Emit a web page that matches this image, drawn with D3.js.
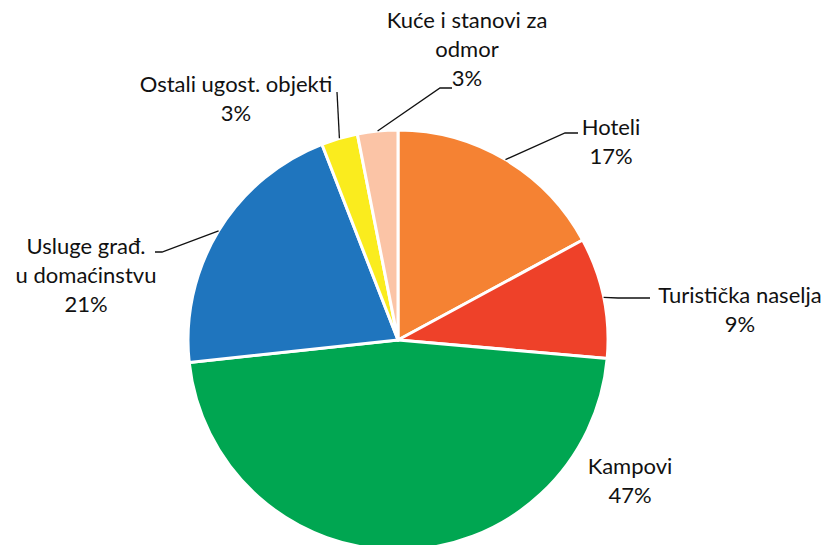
<!DOCTYPE html>
<html lang="hr">
<head>
    <meta charset="UTF-8">
    <title>Pie</title>
    <style>
        body{ margin:0; background:#fff;}
        text{ font-family: Lato, "Open Sans", sans-serif; font-size:22px; fill:#111;}
    </style>
</head>
<body>
<script src="https://cdn.jsdelivr.net/npm/d3@7"></script>
<script>

var categories = ["Hoteli", "Turistička naselja", "Kampovi", "Usluge građ. u domaćinstvu", "Ostali ugost. objekti", "Kuće i stanovi za odmor"];
var values = [17.1, 9.3, 46.9, 20.8, 2.8, 3.1];
var pctLabels = ["17%", "9%", "47%", "21%", "3%", "3%"];
var colors = ["#F58233", "#EE4129", "#00A651", "#1F75BE", "#FAEC1E", "#FBC4A6"];

// label layout: text lines, anchor position, leader elbow
var labelLines = [
    ["Hoteli", "17%"],
    ["Turistička naselja", "9%"],
    ["Kampovi", "47%"],
    ["Usluge građ.", "u domaćinstvu", "21%"],
    ["Ostali ugost. objekti", "3%"],
    ["Kuće i stanovi za", "odmor", "3%"]
];
var labelPos = [[611, 135], [740, 303], [630, 474], [86, 254], [236, 92], [467, 28]];
var leaders = [
    [[565, 133], [578, 133]],
    [[618, 298], [650, 298]],
    null,
    [[162, 252], [155, 252]],
    [[337, 92], [337, 92]],
    [[440, 88], [452, 88]]
];

var width = 826, height = 545, cx = 398, cy = 340, r = 210;

var svg = d3.select("body").append("svg")
        .attr("width", width)
        .attr("height", height);

var g = svg.append("g").attr("transform", "translate(" + cx + "," + cy + ")");

var pie = d3.pie().sort(null).value(function(d){ return d; });
var arcs = pie(values);
var arc = d3.arc().innerRadius(0).outerRadius(r);

g.selectAll(".slice")
    .data(arcs)
    .enter().append("path")
    .attr("class", "slice")
    .attr("d", arc)
    .attr("fill", function(d, i){ return colors[i]; })
    .attr("stroke", "#fff")
    .attr("stroke-width", 3)
    .attr("stroke-linejoin", "round");

// leader lines
arcs.forEach(function(d, i){
    if (!leaders[i]) return;
    var a = (d.startAngle + d.endAngle) / 2;
    var p0 = [cx + r * Math.sin(a), cy - r * Math.cos(a)];
    var pts = [p0].concat(leaders[i]);
    svg.append("path")
        .attr("d", d3.line()(pts))
        .attr("fill", "none")
        .attr("stroke", "#111")
        .attr("stroke-width", 1.3);
});

// labels
labelLines.forEach(function(lines, i){
    var t = svg.append("text")
        .attr("text-anchor", "middle")
        .attr("x", labelPos[i][0])
        .attr("y", labelPos[i][1]);
    lines.forEach(function(s, j){
        t.append("tspan")
            .attr("x", labelPos[i][0])
            .attr("dy", j === 0 ? 0 : 29)
            .text(s);
    });
});

</script>
</body>
</html>
